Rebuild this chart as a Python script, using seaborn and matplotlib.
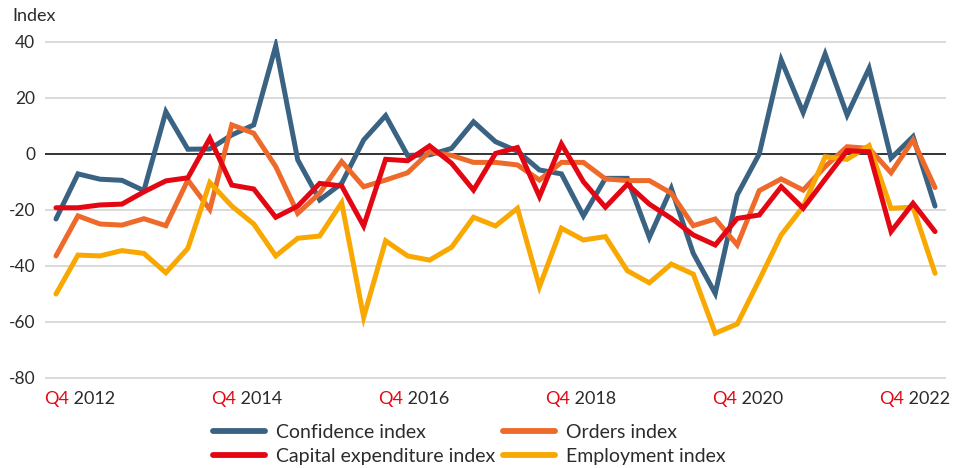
import numpy as np
import pandas as pd
import matplotlib
matplotlib.use("Agg")
import matplotlib.pyplot as plt
import seaborn as sns
from matplotlib.lines import Line2D

# ---------------- data ----------------
quarters = ["Q4 2012"] + [f"Q{q} {y}" for y in range(2013, 2023) for q in (1, 2, 3, 4)]

confidence = [-23.2, -7.1, -9.0, -9.4, -13.1, 15.1, 1.7, 1.8, 6.8, 10.4, 38.6, -2.1, -16.4,
              -10.5, 5.0, 13.7, -0.5, -0.3, 2.0, 11.5, 4.4, 1.0, -5.7, -7.1, -22.1, -8.7, -8.7,
              -29.8, -12.3, -35.5, -49.8, -14.6, 0.0, 33.6, 14.8, 35.7, 13.9, 30.6, -1.5, 6.2, -18.6]
orders = [-36.4, -22.1, -25.0, -25.4, -23.1, -25.6, -9.3, -19.8, 10.4, 7.4, -4.5, -21.2, -14.0,
          -2.7, -11.7, -9.3, -6.7, 0.8, -0.5, -3.0, -3.0, -3.9, -9.3, -3.0, -3.0, -8.9, -9.5,
          -9.5, -14.0, -25.6, -23.2, -32.5, -13.1, -8.9, -12.9, -4.5, 2.6, 2.0, -6.7, 5.0, -12.0]
capex = [-19.2, -19.2, -18.2, -17.9, -13.5, -9.6, -8.5, 5.6, -11.1, -12.5, -22.6, -18.6, -10.5,
         -11.4, -25.7, -1.9, -2.4, 2.9, -3.3, -12.9, 0.2, 2.3, -15.2, 3.6, -9.9, -19.0, -10.8,
         -17.9, -23.0, -28.9, -32.5, -23.0, -21.8, -11.7, -19.4, -9.0, 1.2, 0.8, -27.7, -17.6, -27.7]
employment = [-50.0, -36.1, -36.4, -34.5, -35.5, -42.4, -33.7, -10.2, -18.6, -25.0, -36.4, -30.1, -29.3,
              -17.4, -58.3, -31.0, -36.4, -37.9, -33.3, -22.6, -25.7, -19.4, -47.4, -26.5, -30.7, -29.5, -41.7,
              -46.0, -39.3, -42.9, -64.0, -60.7, -45.0, -28.9, -18.8, -1.0, -1.9, 3.0, -19.4, -19.0, -42.6]

series_names = ["Confidence index", "Capital expenditure index", "Orders index", "Employment index"]
series_values = [confidence, capex, orders, employment]
colors = {"Confidence index": "#3A6282",
          "Orders index": "#EE6A2A",
          "Capital expenditure index": "#E30613",
          "Employment index": "#F8A800"}

tick_quarters = ["Q4 2012", "Q4 2014", "Q4 2016", "Q4 2018", "Q4 2020", "Q4 2022"]
y_ticks = [40, 20, 0, -20, -40, -60, -80]

# ---------------- build frame ----------------
rows = []
for name, vals in zip(series_names, series_values):
    for i, (q, v) in enumerate(zip(quarters, vals)):
        rows.append({"x": i, "quarter": q, "series": name, "value": v})
df = pd.DataFrame(rows)

sns.set_theme(style="white")
plt.rcParams["font.family"] = ["Lato", "DejaVu Sans"]
plt.rcParams["axes.unicode_minus"] = False

TXT = "#2b2b2b"
fig = plt.figure(figsize=(9.65, 4.68), dpi=100)
ax = fig.add_axes([45 / 965, 1 - 380.8 / 468, (946 - 45) / 965, (380.8 - 39.2) / 468])

draw_order = ["Confidence index", "Orders index", "Employment index", "Capital expenditure index"]
sns.lineplot(data=df, x="x", y="value", hue="series", hue_order=draw_order,
             palette=colors, linewidth=3.6, ax=ax, legend=False, zorder=3)
for line in ax.lines:
    line.set_solid_capstyle("round")
    line.set_solid_joinstyle("miter")

ax.set_xlim(-0.5, 40.5)
ax.set_ylim(-81, 41)
ax.set_yticks(y_ticks)
ax.set_yticklabels([str(v) for v in y_ticks])
ax.tick_params(axis="y", length=0, pad=7, labelsize=12.5, labelcolor=TXT)
ax.set_xticks([])
ax.set_xlabel("")
ax.set_ylabel("")
for s in ax.spines.values():
    s.set_visible(False)
for v in y_ticks:
    if v == 0:
        ax.axhline(v, color="#333333", lw=1.4, zorder=2)
    else:
        ax.axhline(v, color="#D9D9D9", lw=1.4, zorder=1)

# x labels: red "Q4" + dark year
label_lefts = np.linspace(-0.55, 37.45, len(tick_quarters))
for left, q in zip(label_lefts, tick_quarters):
    qpart, ypart = q.split(" ")
    t1 = ax.text(left, -0.03, qpart, transform=ax.get_xaxis_transform(),
                 ha="left", va="top", fontsize=13, color="#E30613")
    ax.annotate(" " + ypart, xy=(1, 0), xycoords=t1, ha="left", va="bottom",
                fontsize=13, color=TXT)

fig.text(12 / 965, 1 - 16 / 468, "Index", ha="left", va="center", fontsize=13, color=TXT)

handles = [Line2D([0], [0], color=colors[n], lw=4.2, solid_capstyle="round") for n in series_names]
fig.legend(handles, series_names, ncol=2, loc="upper left", bbox_to_anchor=(203 / 965, 1 - 414 / 468),
           frameon=False, fontsize=14, handlelength=2.7, handletextpad=0.55,
           columnspacing=0.4, labelspacing=0.35, borderpad=0, labelcolor=TXT)

fig.savefig("out.png", dpi=100)
